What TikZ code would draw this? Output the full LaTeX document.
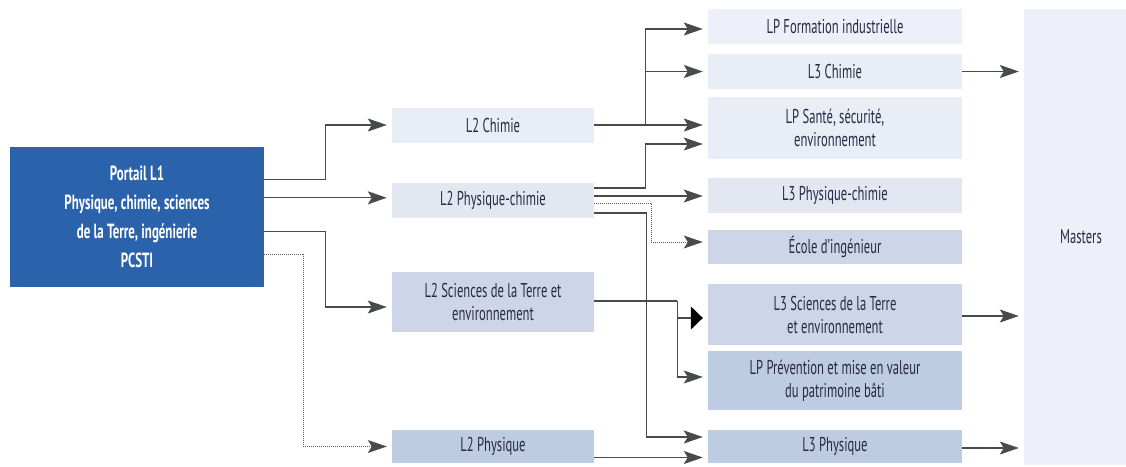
\documentclass[tikz,border=0pt]{standalone}
\usepackage{fontspec}
\setmainfont[FakeStretch=0.63]{PT Sans}
\usetikzlibrary{arrows.meta,calc}
\definecolor{portalc}{HTML}{2A62AB}
\definecolor{txt}{HTML}{2A2944}
\definecolor{ln}{HTML}{474C4B}
\definecolor{dotc}{HTML}{5E5E5E}
\definecolor{cA}{HTML}{EDF0F8}
\definecolor{cB}{HTML}{E9EDF6}
\definecolor{cC}{HTML}{E2E7F2}
\definecolor{cD}{HTML}{CDD6E8}
\definecolor{cE}{HTML}{BDCBE3}
\begin{document}
\begin{tikzpicture}[x=1pt,y=-1pt,
  box/.style={rectangle, inner sep=0pt, align=center, text=txt, font=\fontsize{20}{23}\selectfont},
  colw/.style={minimum width=202pt},
  colr/.style={minimum width=254pt},
  arr/.style={draw=ln, line width=1.3pt, -{Stealth[length=19pt,width=13pt,inset=4pt]}, shorten >=5pt},
  darr/.style={draw=dotc, line width=1pt, densely dotted, -{Stealth[length=19pt,width=13pt,inset=4pt,color=ln,fill=ln,line width=0pt,sep=0pt]}, shorten >=5pt},
  barr/.style={draw=ln, line width=1.3pt, -{Triangle[length=12pt,width=23pt,color=black]}, shorten >=5pt},
  seg/.style={draw=ln, line width=1.3pt}]
\fill[white] (0,0) rectangle (1126,466);
\useasboundingbox (0,0) rectangle (1126,466);

% boxes
\node[box, fill=portalc, text=white, font=\bfseries\fontsize{20.5}{29}\selectfont, minimum width=254pt, minimum height=140pt] (portal) at (137,217) {Portail L1\\Physique, chimie, sciences\\de la Terre, ingénierie\\PCSTI};

\node[box, colw, fill=cB, minimum height=35pt] (l2c) at (493,125) {L2 Chimie};
\node[box, colw, fill=cC, minimum height=35pt] (l2pc) at (493,200) {L2 Physique-chimie};
\node[box, colw, fill=cD, minimum height=60pt] (l2st) at (493,302) {L2 Sciences de la Terre et\\environnement};
\node[box, colw, fill=cE, minimum height=33pt] (l2p) at (493,446.5) {L2 Physique};

\node[box, colr, fill=cA, minimum height=35pt] (lpf) at (835,26.5) {LP Formation industrielle};
\node[box, colr, fill=cB, minimum height=35pt] (l3c) at (835,71.5) {L3 Chimie};
\node[box, colr, fill=cB, minimum height=62pt] (lps) at (835,128) {LP Santé, sécurité,\\environnement};
\node[box, colr, fill=cC, minimum height=35pt] (l3pc) at (835,195.5) {L3 Physique-chimie};
\node[box, colr, fill=cD, minimum height=34pt] (ecole) at (835,247) {École d’ingénieur};
\node[box, colr, fill=cD, minimum height=61pt] (l3st) at (835,314.5) {L3 Sciences de la Terre\\et environnement};
\node[box, colr, fill=cE, minimum height=59pt] (lpp) at (835,380.5) {LP Prévention et mise en valeur\\du patrimoine bâti};
\node[box, colr, fill=cE, minimum height=33pt] (l3p) at (835,446.5) {L3 Physique};

\node[box, fill=cA, minimum width=114pt, minimum height=456pt] (masters) at (1081,237) {Masters};

% portal -> L2
\draw[arr] ($(portal.north east)+(0,33)$) -- ++(61,0) |- (l2c.west);
\coordinate (p2) at ($(portal.north east)+(0,51)$);
\draw[arr] (p2) -- (p2 -| l2pc.west);
\draw[arr] ($(portal.north east)+(0,85)$) -- ++(61,0) |- ($(l2st.west)+(0,5)$);
\draw[darr] ($(portal.north east)+(0,108)$) -- ++(39,0) |- (l2p.west);

% L2 Chimie
\draw[seg] (l2c.east) -- ++(51,0) coordinate (j1);
\draw[arr] (j1) |- ($(lpf.west)+(0,2.5)$);
\draw[arr] (j1) |- (l3c.west);
\draw[arr] (j1) -- (j1 -| lps.west);

% L2 Physique-chimie
\draw[arr] ($(l2pc.east)+(0,-12)$) -- ++(51,0) |- ($(lps.west)+(0,16)$);
\coordinate (q2) at ($(l2pc.east)+(0,-4)$);
\draw[arr] (q2) -- (q2 -| l3pc.west);
\draw[darr] ($(l2pc.east)+(0,3)$) -- ++(57,0) |- ($(ecole.west)+(0,-5)$);
\draw[arr] ($(l2pc.east)+(0,13)$) -- ++(52,0) |- ($(l3p.west)+(0,-9.5)$);

% L2 Sciences de la Terre
\draw[seg] ($(l2st.east)+(0,-1)$) -- ++(83,0) coordinate (j3);
\draw[barr] (j3) |- ($(l3st.west)+(0,3.5)$);
\draw[arr] (j3) |- ($(lpp.west)+(0,-3.5)$);

% L2 Physique
\coordinate (q4) at ($(l2p.east)+(0,11)$);
\draw[arr] (q4) -- (q4 -| l3p.west);

% to Masters
\draw[arr] (l3c.east) -- (l3c.east -| masters.west);
\coordinate (r2) at ($(l3st.east)+(0,1.5)$);
\draw[arr] (r2) -- (r2 -| masters.west);
\coordinate (r3) at ($(l3p.east)+(0,1.5)$);
\draw[arr] (r3) -- (r3 -| masters.west);
\end{tikzpicture}
\end{document}
